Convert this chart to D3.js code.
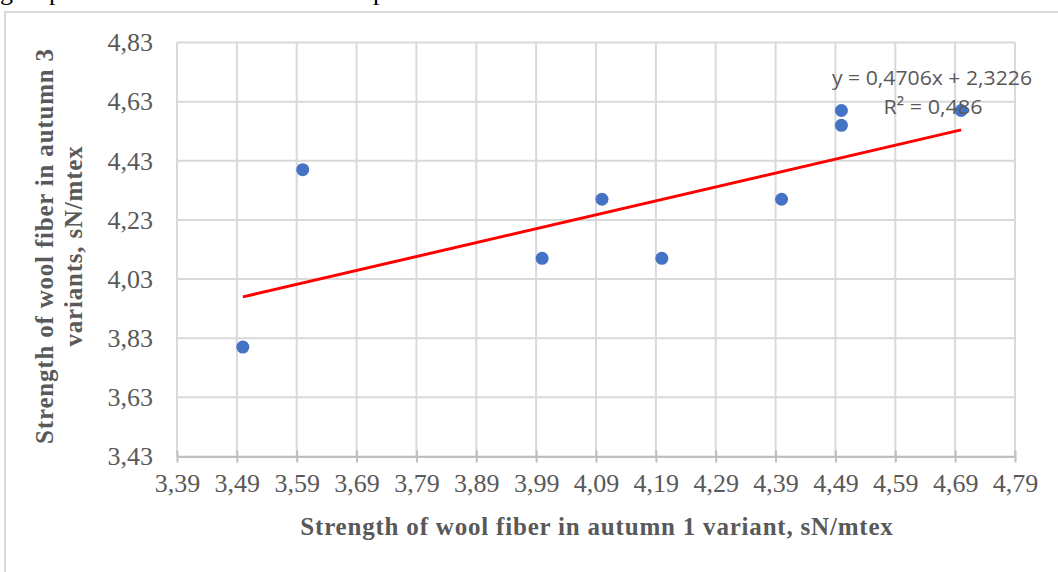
<!DOCTYPE html>
<html>
<head>
<meta charset="utf-8">
<script src="https://cdn.jsdelivr.net/npm/d3@7"></script>
<style>
  body { margin: 0; background: #fff; }
  svg { display: block; }
</style>
</head>
<body>
<div id="graphic"></div>
<script>
// values
const xVals = [3.50, 3.60, 4.00, 4.10, 4.20, 4.40, 4.50, 4.50, 4.70];
const yVals = [3.80, 4.40, 4.10, 4.30, 4.10, 4.30, 4.60, 4.55, 4.60];
const xTicks = [3.39, 3.49, 3.59, 3.69, 3.79, 3.89, 3.99, 4.09, 4.19, 4.29, 4.39, 4.49, 4.59, 4.69, 4.79];
const yTicks = [3.43, 3.63, 3.83, 4.03, 4.23, 4.43, 4.63, 4.83];
const trend = [0.4706, 2.3226];   // slope, intercept
const r2 = 0.486;

const width = 1058, height = 572;
const pLeft = 177, pRight = 1015, pTop = 42.5, pBottom = 456.5;

const fmt = v => d3.format(".2f")(v).replace(".", ",");
const comma = v => String(v).replace(".", ",");

const x = d3.scaleLinear().domain([3.39, 4.79]).range([pLeft, pRight]);
const y = d3.scaleLinear().domain([3.43, 4.83]).range([pBottom, pTop]);

const svg = d3.select("#graphic")
  .append("svg")
  .attr("width", width)
  .attr("height", height);

// bits of the line of text above the chart (only descenders show)
svg.append("text")
  .attr("font-family", "Liberation Serif")
  .attr("font-size", 26)
  .attr("fill", "#000")
  .selectAll("tspan")
  .data([[0, "g"], [49, "p"], [373, "p"]])
  .join("tspan")
    .attr("x", d => d[0])
    .attr("y", -0.5)
    .text(d => d[1]);

// chart frame
svg.append("path")
  .attr("fill", "none")
  .attr("stroke", "#d9d9d9")
  .attr("stroke-width", 2)
  .attr("d", `M5,${height} V12 H${width}`);

// grid
svg.append("g")
  .attr("stroke", "#d9d9d9")
  .attr("stroke-width", 2)
  .call(g => g.selectAll("line.h")
    .data(yTicks)
    .join("line")
      .attr("class", "h")
      .attr("x1", pLeft).attr("x2", pRight)
      .attr("y1", d => y(d)).attr("y2", d => y(d)))
  .call(g => g.selectAll("line.v")
    .data(xTicks)
    .join("line")
      .attr("class", "v")
      .attr("y1", pTop).attr("y2", pBottom)
      .attr("x1", d => x(d)).attr("x2", d => x(d)));

// x axis
const xAxis = d3.axisBottom(x)
  .tickValues(xTicks)
  .tickFormat(fmt)
  .tickSizeInner(6)
  .tickSizeOuter(0)
  .tickPadding(11);

svg.append("g")
  .attr("transform", `translate(0,${pBottom})`)
  .call(xAxis)
  .call(g => g.select(".domain").attr("stroke", "#bfbfbf").attr("stroke-width", 2))
  .call(g => g.selectAll(".tick line")
    .attr("stroke", "#bfbfbf").attr("stroke-width", 2).attr("y1", -6))
  .call(g => g.selectAll(".tick text")
    .attr("fill", "#595959")
    .attr("font-family", "Liberation Serif")
    .attr("font-size", 26));

// y axis (labels only)
const yAxis = d3.axisLeft(y)
  .tickValues(yTicks)
  .tickFormat(fmt)
  .tickSize(0)
  .tickPadding(24);

svg.append("g")
  .attr("transform", `translate(${pLeft},0)`)
  .call(yAxis)
  .call(g => g.select(".domain").remove())
  .call(g => g.selectAll(".tick text")
    .attr("fill", "#595959")
    .attr("font-family", "Liberation Serif")
    .attr("font-size", 26));

// trendline
const x0 = d3.min(xVals), x1 = d3.max(xVals);
svg.append("line")
  .attr("stroke", "#ff0000")
  .attr("stroke-width", 3)
  .attr("x1", x(x0)).attr("y1", y(trend[0] * x0 + trend[1]))
  .attr("x2", x(x1)).attr("y2", y(trend[0] * x1 + trend[1]));

// points
svg.append("g")
  .attr("fill", "#4472c4")
  .selectAll("circle")
  .data(xVals.map((d, i) => [d, yVals[i]]))
  .join("circle")
    .attr("cx", d => x(d[0]))
    .attr("cy", d => y(d[1]))
    .attr("r", 6.5);

// trendline label
const eq = svg.append("g")
  .attr("fill", "#595959")
  .attr("font-family", "Open Sans")
  .attr("font-size", 20)
  .attr("text-anchor", "middle");
eq.append("text")
  .attr("x", 932).attr("y", 84.5)
  .attr("textLength", 200).attr("lengthAdjust", "spacingAndGlyphs")
  .text(`y = ${comma(trend[0])}x + ${comma(trend[1])}`);
eq.append("text")
  .attr("x", 933).attr("y", 113.5)
  .attr("textLength", 99).attr("lengthAdjust", "spacingAndGlyphs")
  .text(`R² = ${comma(r2)}`);

// axis titles
const titleStyle = t => t
  .attr("text-anchor", "middle")
  .attr("fill", "#595959")
  .attr("font-family", "Liberation Serif")
  .attr("font-weight", "bold")
  .attr("font-size", 25)
  .attr("letter-spacing", 0.8);

svg.append("text")
  .attr("x", (pLeft + pRight) / 2 + 1)
  .attr("y", 535)
  .call(titleStyle)
  .text("Strength of wool fiber in autumn 1 variant, sN/mtex");

const yt = svg.append("text")
  .attr("transform", `translate(53,246) rotate(-90)`)
  .call(titleStyle);
yt.append("tspan").attr("x", 0).attr("y", 0).text("Strength of wool fiber in autumn 3");
yt.append("tspan").attr("x", 0).attr("y", 29).text("variants, sN/mtex");
</script>
</body>
</html>
